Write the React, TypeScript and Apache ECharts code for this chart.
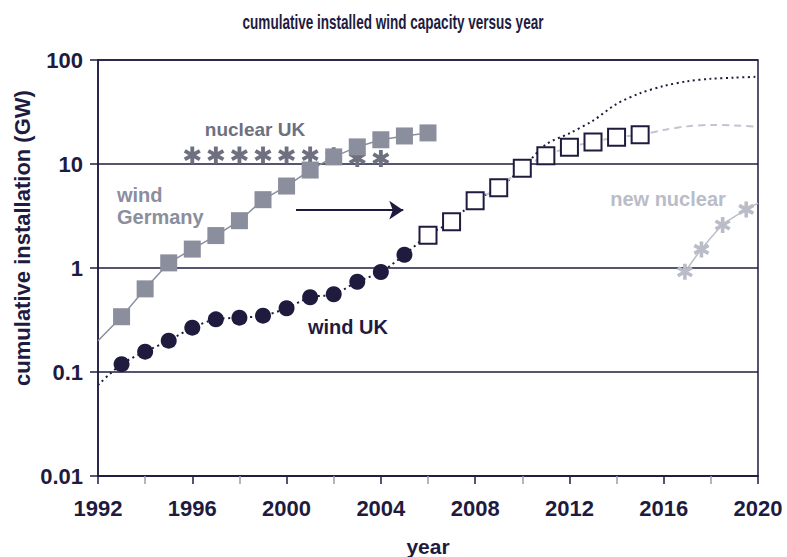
import React, { useEffect, useRef } from 'react';
import * as echarts from 'echarts';

// ---- axis settings ----
const xMin = 1992;
const xMax = 2020;
const xStep = 4;
const yTickLabels = ['0.01', '0.1', '1', '10', '100'];

// ---- wind Germany (grey filled squares) ----
const germanyStart = [1992, 0.2];
const germanyYears = [1993, 1994, 1995, 1996, 1997, 1998, 1999, 2000, 2001, 2002, 2003, 2004, 2005, 2006];
const germanyValues = [0.34, 0.63, 1.12, 1.52, 2.05, 2.85, 4.54, 6.14, 8.75, 11.7, 14.6, 17.1, 18.6, 19.9];

// ---- wind UK (dark circles) ----
const ukTrendStart = [1992, 0.075];
const ukYears = [1993, 1994, 1995, 1996, 1997, 1998, 1999, 2000, 2001, 2002, 2003, 2004, 2005];
const ukValues = [0.119, 0.157, 0.2, 0.267, 0.321, 0.333, 0.348, 0.41, 0.523, 0.559, 0.738, 0.916, 1.34];

// ---- wind UK later (open squares) ----
const ukLaterYears = [2006, 2007, 2008, 2009, 2010, 2011, 2012, 2013, 2014, 2015];
const ukLaterValues = [2.07, 2.79, 4.44, 5.92, 9.09, 12.0, 14.5, 16.3, 18.1, 19.1];

// ---- projections ----
const highProjYears = [2011, 2012, 2013, 2014, 2015, 2016, 2017, 2018, 2019, 2020];
const highProjValues = [15.4, 19.7, 26.1, 37.8, 47.9, 56.2, 62.4, 66, 67.6, 69];
const lowProjYears = [2016, 2017, 2018, 2019, 2020];
const lowProjValues = [21.2, 23.0, 23.7, 23.5, 22.8];

// ---- nuclear UK (dark grey asterisks) ----
const nuclearYears = [1996, 1997, 1998, 1999, 2000, 2001, 2002, 2003, 2004];
const nuclearValues = [12.2, 12.2, 12.2, 12.2, 12.2, 12.2, 12.0, 11.3, 11.3];

// ---- new nuclear (light grey asterisks) ----
const newNuclearYears = [2016.9, 2017.6, 2018.5, 2019.5];
const newNuclearValues = [0.92, 1.51, 2.59, 3.66];
const newNuclearEnd = [2020, 4.2];

// ---- arrow annotation ----
const arrowFrom = [2000.4, 3.6];
const arrowTo = [2004.95, 3.6];

const NAVY = '#1e1b3f';
const GERMANY = '#8a8e9d';
const NUCLEAR = '#6e7080';
const LIGHT = '#babcc8';
const FONT = '"Liberation Sans", Arial, sans-serif';

const ASTERISK =
  'path://M7.8,0 L12.2,0 L12.2,20 L7.8,20 Z M0.24,6.905 L2.44,3.095 L19.76,13.095 L17.56,16.905 Z M17.56,3.095 L19.76,6.905 L2.44,16.905 L0.24,13.095 Z';

const zip = (xs: number[], ys: number[]) => xs.map((x, i) => [x, ys[i]]);

export default function App() {
  const ref = useRef<HTMLDivElement>(null);

  useEffect(() => {
    if (!ref.current) return;
    const chart = echarts.init(ref.current, null, { renderer: 'svg' });

    const ukTrend = [
      ukTrendStart,
      ...zip(ukYears, ukValues),
      ...zip(ukLaterYears.slice(0, 5), ukLaterValues.slice(0, 5)),
      ...zip(highProjYears, highProjValues),
    ];
    const lowTrend = [
      ...zip(ukLaterYears.slice(2), ukLaterValues.slice(2)),
      ...zip(lowProjYears, lowProjValues),
    ];

    chart.setOption({
      animation: false,
      backgroundColor: '#ffffff',
      grid: {
        left: 98,
        right: 29,
        top: 60,
        bottom: 81,
        show: true,
        borderColor: NAVY,
        borderWidth: 1.5,
        backgroundColor: 'transparent',
      },
      xAxis: {
        type: 'value',
        min: xMin,
        max: xMax,
        interval: xStep,
        axisLine: { show: true, lineStyle: { color: NAVY, width: 1.5 } },
        axisTick: { show: true, length: 8, lineStyle: { color: NAVY, width: 1.5 } },
        minorTick: { show: true, splitNumber: 2, length: 8, lineStyle: { color: '#9a9cab', width: 1.5 } },
        splitLine: { show: false },
        axisLabel: {
          color: NAVY,
          fontSize: 22,
          fontWeight: 'bold',
          fontFamily: FONT,
          margin: 21,
          formatter: (v: number) => String(v),
        },
      },
      yAxis: {
        type: 'log',
        logBase: 10,
        min: 0.01,
        max: 100,
        axisLine: { show: true, lineStyle: { color: NAVY, width: 1.5 } },
        axisTick: { show: true, length: 8, lineStyle: { color: NAVY, width: 1.5 } },
        minorTick: { show: false },
        splitLine: { show: true, lineStyle: { color: NAVY, width: 1.5 } },
        axisLabel: {
          color: NAVY,
          fontSize: 22,
          fontWeight: 'bold',
          fontFamily: FONT,
          margin: 15,
          formatter: (v: number) => yTickLabels[Math.round(Math.log10(v)) + 2] ?? '',
        },
      },
      graphic: [
        {
          type: 'text',
          x: 393,
          y: 22,
          scaleX: 0.645,
          style: {
            text: 'cumulative installed wind capacity versus year',
            fill: NAVY,
            font: `bold 21px ${FONT}`,
            textAlign: 'center',
            textVerticalAlign: 'middle',
          },
        },
        {
          type: 'text',
          x: 22,
          y: 238,
          rotation: Math.PI / 2,
          style: {
            text: 'cumulative installation (GW)',
            fill: NAVY,
            font: `bold 22px ${FONT}`,
            textAlign: 'center',
            textVerticalAlign: 'middle',
          },
        },
        {
          type: 'text',
          x: 428,
          y: 546,
          style: {
            text: 'year',
            fill: NAVY,
            font: `bold 21px ${FONT}`,
            textAlign: 'center',
            textVerticalAlign: 'middle',
          },
        },
        {
          type: 'text',
          x: 255,
          y: 129,
          style: {
            text: 'nuclear UK',
            fill: NUCLEAR,
            font: `bold 19px ${FONT}`,
            textAlign: 'center',
            textVerticalAlign: 'middle',
          },
        },
        {
          type: 'text',
          x: 117,
          y: 184,
          style: {
            text: 'wind\nGermany',
            fill: GERMANY,
            font: `bold 20px ${FONT}`,
            lineHeight: 22,
            textAlign: 'left',
            textVerticalAlign: 'top',
          },
        },
        {
          type: 'text',
          x: 668,
          y: 199,
          style: {
            text: 'new nuclear',
            fill: LIGHT,
            font: `bold 20px ${FONT}`,
            textAlign: 'center',
            textVerticalAlign: 'middle',
          },
        },
        {
          type: 'text',
          x: 348,
          y: 327,
          style: {
            text: 'wind UK',
            fill: NAVY,
            font: `bold 20px ${FONT}`,
            textAlign: 'center',
            textVerticalAlign: 'middle',
          },
        },
      ],
      series: [
        {
          name: 'wind UK trend',
          type: 'line',
          data: ukTrend,
          symbol: 'none',
          smooth: 0.3,
          z: 1,
          lineStyle: { color: NAVY, width: 2, type: [2, 3.5] },
        },
        {
          name: 'low projection',
          type: 'line',
          data: lowTrend,
          symbol: 'none',
          smooth: 0.3,
          z: 1,
          lineStyle: { color: '#c3c5d0', width: 2, type: [7, 5] },
        },
        {
          name: 'nuclear UK',
          type: 'scatter',
          data: zip(nuclearYears, nuclearValues),
          symbol: ASTERISK,
          symbolSize: 17,
          z: 2,
          itemStyle: { color: NUCLEAR, opacity: 1 },
        },
        {
          name: 'wind Germany',
          type: 'line',
          data: [{ value: germanyStart, symbol: 'none' }, ...zip(germanyYears, germanyValues)],
          symbol: 'rect',
          symbolSize: 17,
          z: 3,
          lineStyle: { color: GERMANY, width: 1.5 },
          itemStyle: { color: GERMANY, opacity: 1 },
          markLine: {
            silent: true,
            animation: false,
            label: { show: false },
            lineStyle: { color: NAVY, width: 2, type: 'solid' },
            symbol: ['none', 'arrow'],
            symbolSize: 14,
            data: [[{ coord: arrowFrom }, { coord: arrowTo }]],
          },
        },
        {
          name: 'wind UK',
          type: 'scatter',
          data: zip(ukYears, ukValues),
          symbol: 'circle',
          symbolSize: 16,
          z: 4,
          itemStyle: { color: NAVY, opacity: 1 },
        },
        {
          name: 'wind UK later',
          type: 'scatter',
          data: zip(ukLaterYears, ukLaterValues),
          symbol: 'rect',
          symbolSize: 17,
          z: 4,
          itemStyle: { color: '#ffffff', borderColor: NAVY, borderWidth: 2, opacity: 1 },
        },
        {
          name: 'new nuclear',
          type: 'line',
          data: [...zip(newNuclearYears, newNuclearValues), { value: newNuclearEnd, symbol: 'none' }],
          symbol: ASTERISK,
          symbolSize: 16,
          smooth: 0.3,
          z: 3,
          lineStyle: { color: LIGHT, width: 1.5 },
          itemStyle: { color: LIGHT, opacity: 1 },
        },
      ],
    });

    return () => chart.dispose();
  }, []);

  return (
    <div
      ref={ref}
      style={{ position: 'fixed', left: 0, top: 0, width: 787, height: 557, background: '#ffffff' }}
    />
  );
}
